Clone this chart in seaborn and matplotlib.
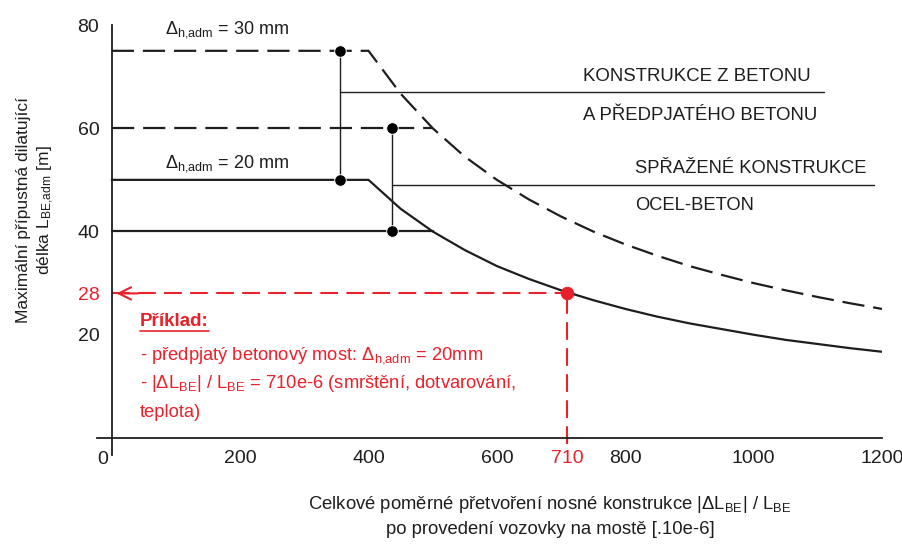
import seaborn as sns
import matplotlib.pyplot as plt

# values
strain = [0, 400, 450, 500, 550, 600, 650, 700, 750, 800, 850, 900, 950, 1000, 1050, 1100, 1150, 1200]
L_20mm = [50, 50, 44.4, 40, 36.4, 33.3, 30.8, 28.6, 26.7, 25, 23.5, 22.2, 21.1, 20, 19.0, 18.2, 17.4, 16.7]
L_30mm = [75, 75, 66.7, 60, 54.5, 50, 46.2, 42.9, 40, 37.5, 35.3, 33.3, 31.6, 30, 28.6, 27.3, 26.1, 25]

limit_x = [0, 500]
limit_steel = [40, 40]
limit_concrete = [60, 60]

conn1_x = [355, 355]
conn1_y = [50, 75]
conn2_x = [436, 436]
conn2_y = [40, 60]

lead1_x = [355, 1110]
lead1_y = [67, 67]
lead2_x = [436, 1188]
lead2_y = [49, 49]

ex_strain = 710
ex_L = 28

x_ticks = [200, 400, 600, 800, 1000, 1200]
y_ticks = [20, 40, 60, 80]

sns.set_style('white')
plt.rcParams['font.family'] = ['Liberation Sans', 'DejaVu Sans']
plt.rcParams['mathtext.fontset'] = 'custom'
plt.rcParams['mathtext.rm'] = 'Liberation Sans'
plt.rcParams['mathtext.it'] = 'Liberation Sans'

RED = '#e8212b'
BLK = '#1e1e1e'

fig = plt.figure(figsize=(9.03, 5.54), dpi=100)
ax = fig.add_axes([97 / 903, 1 - 455 / 554, 785 / 903, 430 / 554])

dash = (0, (10, 4))
sns.lineplot(x=strain, y=L_30mm, ax=ax, color=BLK, lw=1.6, linestyle=dash, estimator=None, sort=False)
sns.lineplot(x=strain, y=L_20mm, ax=ax, color=BLK, lw=1.6, estimator=None, sort=False)
sns.lineplot(x=limit_x, y=limit_concrete, ax=ax, color=BLK, lw=1.6, linestyle=dash, estimator=None, sort=False)
sns.lineplot(x=limit_x, y=limit_steel, ax=ax, color=BLK, lw=1.6, estimator=None, sort=False)

for xs, ys in [(conn1_x, conn1_y), (conn2_x, conn2_y), (lead1_x, lead1_y), (lead2_x, lead2_y)]:
    sns.lineplot(x=xs, y=ys, ax=ax, color=BLK, lw=1.0, estimator=None, sort=False)
sns.scatterplot(x=conn1_x + conn2_x, y=conn1_y + conn2_y, ax=ax, color='black', s=70, zorder=5)

# worked example in red
red_dash = (0, (8.5, 4))
sns.lineplot(x=[0, ex_strain], y=[ex_L, ex_L], ax=ax, color=RED, lw=1.5, linestyle=red_dash,
             estimator=None, sort=False)
sns.lineplot(x=[ex_strain, ex_strain], y=[-1.2, ex_L], ax=ax, color=RED, lw=1.5, linestyle=red_dash,
             estimator=None, sort=False)
sns.scatterplot(x=[ex_strain], y=[ex_L], ax=ax, color=RED, s=80, zorder=6, edgecolor=RED)
ax.annotate('', xy=(3, ex_L), xytext=(45, ex_L),
            arrowprops=dict(arrowstyle='->', color=RED, lw=1.5, mutation_scale=22))

ax.set_xlim(-23, 1200)
ax.set_ylim(-3.3, 80)
for s in ['top', 'right']:
    ax.spines[s].set_visible(False)
ax.spines['left'].set_position(('data', 0))
ax.spines['bottom'].set_position(('data', 0))
for s in ['left', 'bottom']:
    ax.spines[s].set_color(BLK)
    ax.spines[s].set_linewidth(1.3)

ax.set_xticks(x_ticks + [ex_strain])
ax.set_xticklabels([str(v) for v in x_ticks] + [str(ex_strain)])
ax.set_yticks(y_ticks + [ex_L])
ax.set_yticklabels([str(v) for v in y_ticks] + [str(ex_L)])
ax.tick_params(axis='x', direction='in', length=9, width=1.2, pad=9, labelsize=14, colors=BLK)
ax.tick_params(axis='y', direction='in', length=6, width=1.2, pad=9, labelsize=14, colors=BLK)
ax.get_xticklabels()[-1].set_color(RED)
ax.get_yticklabels()[-1].set_color(RED)
ax.xaxis.get_major_ticks()[-1].tick1line.set_visible(False)
ax.yaxis.get_major_ticks()[-1].tick1line.set_visible(False)
ax.text(-23, -2.5, '0', fontsize=14, ha='left', va='top', color=BLK)

ax.text(83, 79.2, r'$\Delta_{\mathrm{h{,}adm}}$ = 30 mm', fontsize=13, va='center', color=BLK)
ax.text(83, 53.1, r'$\Delta_{\mathrm{h{,}adm}}$ = 20 mm', fontsize=13, va='center', color=BLK)

ax.text(734, 70.1, 'KONSTRUKCE Z BETONU', fontsize=13.4, va='center', color=BLK)
ax.text(734, 62.4, 'A PŘEDPJATÉHO BETONU', fontsize=13.4, va='center', color=BLK)
ax.text(815, 52.2, 'SPŘAŽENÉ KONSTRUKCE', fontsize=13.2, va='center', color=BLK)
ax.text(815, 45.0, 'OCEL-BETON', fontsize=13.2, va='center', color=BLK)

t = ax.text(44, 22.6, 'Příklad:', fontsize=13.5, fontweight='bold', va='center', color=RED)
ax.text(44, 16.0, r'- předpjatý betonový most: $\Delta_{\mathrm{h{,}adm}}$ = 20mm', fontsize=13.2,
        va='center', color=RED)
ax.text(44, 10.6, r'- |$\Delta$L$_{\mathrm{BE}}$| / L$_{\mathrm{BE}}$ = 710e-6 (smrštění, dotvarování,',
        fontsize=13.2, va='center', color=RED)
ax.text(44, 4.9, 'teplota)', fontsize=13.2, va='center', color=RED)

# underline "Příklad:"
fig.canvas.draw()
bb = t.get_window_extent().transformed(ax.transData.inverted())
ax.plot([bb.x0, bb.x1], [bb.y0 - 0.2, bb.y0 - 0.2], color=RED, lw=1.2)

fig.text(36 / 903, 1 - 210 / 554,
         'Maximální přípustná dilatující\ndélka L$_{\\mathrm{BE{,}adm}}$ [m]',
         rotation=90, ha='center', va='center', fontsize=12.5, color=BLK, linespacing=1.4)
fig.text(550 / 903, 1 - 516 / 554,
         'Celkové poměrné přetvoření nosné konstrukce |$\\Delta$L$_{\\mathrm{BE}}$| / L$_{\\mathrm{BE}}$\n'
         'po provedení vozovky na mostě [.10e-6]',
         ha='center', va='center', fontsize=13.3, color=BLK, linespacing=1.45)

fig.savefig('out.png', dpi=100)
